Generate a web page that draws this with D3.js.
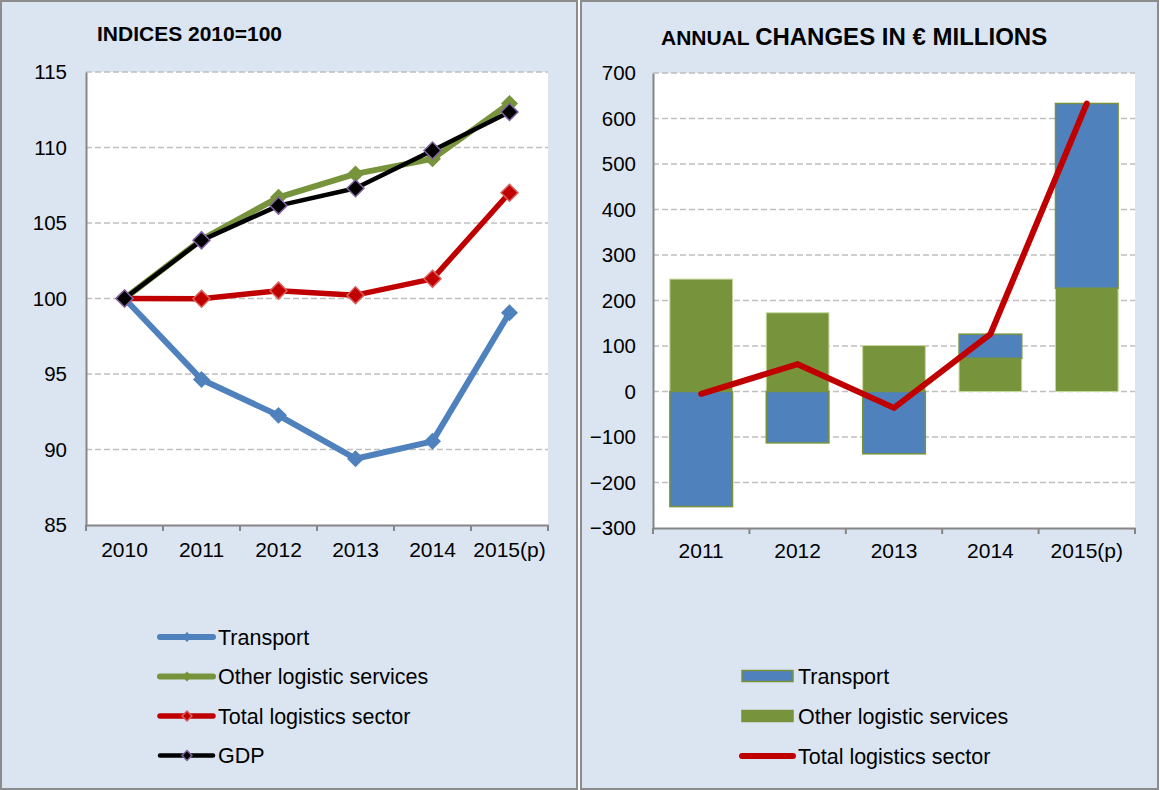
<!DOCTYPE html>
<html>
<head>
<meta charset="utf-8">
<script src="https://cdn.jsdelivr.net/npm/d3@7"></script>
<style>
  body { margin: 0; background: #fff; }
  svg text { font-family: Arial, "Liberation Sans", sans-serif; fill: #000; }
</style>
</head>
<body>
<main></main>
<script>
// left chart: indices 2010=100
const years = ["2010", "2011", "2012", "2013", "2014", "2015(p)"]
const transportIdx = [100, 94.64, 92.26, 89.39, 90.54, 99.05]
const otherIdx = [100, 103.9, 106.7, 108.25, 109.25, 112.92]
const totalIdx = [100, 99.98, 100.52, 100.22, 101.3, 107.0]
const gdpIdx = [100, 103.85, 106.15, 107.3, 109.8, 112.35]
const idxTicks = [85, 90, 95, 100, 105, 110, 115]

// right chart: annual changes in € millions
const changeYears = ["2011", "2012", "2013", "2014", "2015(p)"]
const transportChg = [-253, -113, -137, 53, 406]
const otherChg = [247, 173, 101, 73, 227]
const totalChg = [-5, 60, -36, 126, 633]
const chgTicks = [-300, -200, -100, 0, 100, 200, 300, 400, 500, 600, 700]

const blue = "#4F81BD", green = "#77933C", red = "#C00000"
const panelFill = "#DBE5F1", gridColor = "#BFBFBF", axisColor = "#868686"

const width = 1160, height = 790

let svg = d3.select("main")
    .append("svg")
    .attr("width", width)
    .attr("height", height)
    .attr("viewBox", [0, 0, width, height])

// panels
svg.selectAll("rect.panel")
    .data([[1, 577], [581, 1158]])
    .enter().append("rect")
    .attr("class", "panel")
    .attr("x", d => d[0])
    .attr("y", 1)
    .attr("width", d => d[1] - d[0])
    .attr("height", 788)
    .attr("fill", panelFill)
    .attr("stroke", "#8C8C8C")
    .attr("stroke-width", 2)

function diamond(g, x, y, size, fill, stroke) {
    g.append("path")
        .attr("d", d3.symbol(d3.symbolSquare, size * size)())
        .attr("transform", `translate(${x},${y}) rotate(45)`)
        .attr("fill", fill)
        .attr("stroke", stroke || "none")
        .attr("stroke-width", stroke ? 1.5 : 0)
}

// ---------- LEFT ----------
const L = { left: 86, right: 548, top: 72, bottom: 525 }

let xL = d3.scaleBand().domain(years).range([L.left, L.right])
let yL = d3.scaleLinear().domain([85, 115]).range([L.bottom, L.top])

svg.append("text")
    .attr("x", 97).attr("y", 41)
    .attr("font-size", 21).attr("font-weight", "bold")
    .text("INDICES 2010=100")

svg.append("rect")
    .attr("x", L.left).attr("y", L.top)
    .attr("width", L.right - L.left).attr("height", L.bottom - L.top)
    .attr("fill", "#fff")

svg.append("g").selectAll("line")
    .data(idxTicks.filter(t => t > 85))
    .enter().append("line")
    .attr("x1", L.left).attr("x2", L.right)
    .attr("y1", d => yL(d)).attr("y2", d => yL(d))
    .attr("stroke", gridColor).attr("stroke-width", 1.5)
    .attr("stroke-dasharray", "6,3")

let yAxisL = svg.append("g")
    .attr("transform", `translate(${L.left},0)`)
    .call(d3.axisLeft(yL).tickValues(idxTicks).tickSize(0).tickPadding(19))
yAxisL.select(".domain").attr("stroke", axisColor).attr("stroke-width", 2)
yAxisL.selectAll("text").attr("font-size", 20.5)

let xAxisL = svg.append("g")
    .attr("transform", `translate(0,${L.bottom})`)
    .call(d3.axisBottom(xL).tickSize(0).tickPadding(17))
xAxisL.select(".domain").attr("stroke", axisColor).attr("stroke-width", 2)
xAxisL.selectAll("text").attr("font-size", 21)
xAxisL.selectAll("line.sep")
    .data(d3.range(years.length + 1))
    .enter().append("line")
    .attr("class", "sep")
    .attr("x1", i => L.left + i * xL.step()).attr("x2", i => L.left + i * xL.step())
    .attr("y1", 0).attr("y2", 6)
    .attr("stroke", axisColor).attr("stroke-width", 2)

const seriesL = [
    { name: "Transport", values: transportIdx, color: blue, width: 6, mfill: blue, mstroke: null },
    { name: "Other logistic services", values: otherIdx, color: green, width: 6, mfill: green, mstroke: null },
    { name: "Total logistics sector", values: totalIdx, color: red, width: 5.5, mfill: red, mstroke: "#D9605C" },
    { name: "GDP", values: gdpIdx, color: "#000", width: 4.5, mfill: "#000", mstroke: "#8064A2" }
]

let line = d3.line()
    .x((d, i) => xL(years[i]) + xL.bandwidth() / 2)
    .y(d => yL(d))

seriesL.forEach(s => {
    let g = svg.append("g")
    g.append("path")
        .attr("d", line(s.values))
        .attr("fill", "none")
        .attr("stroke", s.color)
        .attr("stroke-width", s.width)
        .attr("stroke-linejoin", "round")
    s.values.forEach((v, i) => {
        diamond(g, xL(years[i]) + xL.bandwidth() / 2, yL(v), 12, s.mfill, s.mstroke)
    })
})

// legend left
seriesL.forEach((s, i) => {
    let y = 637 + i * 39.5
    let g = svg.append("g")
    g.append("line")
        .attr("x1", 160).attr("x2", 213).attr("y1", y).attr("y2", y)
        .attr("stroke", s.color).attr("stroke-width", s.width)
        .attr("stroke-linecap", "round")
    diamond(g, 187, y, 7, s.mfill, s.mstroke)
    g.append("text")
        .attr("x", 218).attr("y", y).attr("dy", "0.35em")
        .attr("font-size", 21.5)
        .text(s.name)
})

// ---------- RIGHT ----------
const R = { left: 653, right: 1135, top: 73, bottom: 528 }

let xR = d3.scaleBand().domain(changeYears).range([R.left, R.right]).paddingInner(0.35).paddingOuter(0.175)
let xRb = d3.scaleBand().domain(changeYears).range([R.left, R.right])
let yR = d3.scaleLinear().domain([-300, 700]).range([R.bottom, R.top])

let title = svg.append("text")
    .attr("x", 661).attr("y", 45)
    .attr("font-weight", "bold")
title.append("tspan").attr("font-size", 21).text("ANNUAL ")
title.append("tspan").attr("font-size", 24).text("CHANGES IN € MILLIONS")

svg.append("rect")
    .attr("x", R.left).attr("y", R.top)
    .attr("width", R.right - R.left).attr("height", R.bottom - R.top)
    .attr("fill", "#fff")

svg.append("g").selectAll("line")
    .data(chgTicks.filter(t => t > -300))
    .enter().append("line")
    .attr("x1", R.left).attr("x2", R.right)
    .attr("y1", d => yR(d)).attr("y2", d => yR(d))
    .attr("stroke", gridColor).attr("stroke-width", 1.5)
    .attr("stroke-dasharray", "6,3")

let rows = changeYears.map((y, i) => ({ year: y, other: otherChg[i], transport: transportChg[i] }))
let stacked = d3.stack().keys(["other", "transport"]).offset(d3.stackOffsetDiverging)(rows)
let barColor = { other: green, transport: blue }
let barStroke = { other: "#C4D79B", transport: green }

stacked.forEach(layer => {
    svg.append("g").selectAll("rect")
        .data(layer)
        .enter().append("rect")
        .attr("x", d => xR(d.data.year))
        .attr("y", d => yR(Math.max(d[0], d[1])))
        .attr("width", xR.bandwidth())
        .attr("height", d => Math.abs(yR(d[0]) - yR(d[1])))
        .attr("fill", barColor[layer.key])
        .attr("stroke", barStroke[layer.key])
        .attr("stroke-width", layer.key == "transport" ? 1.5 : 1)
})

let yAxisR = svg.append("g")
    .attr("transform", `translate(${R.left},0)`)
    .call(d3.axisLeft(yR).tickValues(chgTicks).tickSize(0).tickPadding(17))
yAxisR.select(".domain").attr("stroke", axisColor).attr("stroke-width", 2)
yAxisR.selectAll("text").attr("font-size", 20.5)

let xAxisR = svg.append("g")
    .attr("transform", `translate(0,${R.bottom})`)
    .call(d3.axisBottom(xRb).tickSize(0).tickPadding(15))
xAxisR.select(".domain").attr("stroke", axisColor).attr("stroke-width", 2)
xAxisR.selectAll("text").attr("font-size", 21)
xAxisR.selectAll("line.sep")
    .data(d3.range(changeYears.length + 1))
    .enter().append("line")
    .attr("class", "sep")
    .attr("x1", i => R.left + i * xRb.step()).attr("x2", i => R.left + i * xRb.step())
    .attr("y1", 0).attr("y2", 6)
    .attr("stroke", axisColor).attr("stroke-width", 2)

let lineR = d3.line()
    .x((d, i) => xRb(changeYears[i]) + xRb.bandwidth() / 2)
    .y(d => yR(d))

svg.append("path")
    .attr("d", lineR(totalChg))
    .attr("fill", "none")
    .attr("stroke", red)
    .attr("stroke-width", 6)
    .attr("stroke-linecap", "round")

// legend right
const legendR = [
    { name: "Transport", type: "rect", fill: blue, stroke: green },
    { name: "Other logistic services", type: "rect", fill: green, stroke: green },
    { name: "Total logistics sector", type: "line", fill: red }
]
legendR.forEach((d, i) => {
    let y = 676 + i * 40
    if (d.type == "rect") {
        svg.append("rect")
            .attr("x", 742).attr("y", y - 5.5)
            .attr("width", 51).attr("height", 11)
            .attr("fill", d.fill).attr("stroke", d.stroke).attr("stroke-width", 1.5)
    } else {
        svg.append("line")
            .attr("x1", 742).attr("x2", 793).attr("y1", y).attr("y2", y)
            .attr("stroke", d.fill).attr("stroke-width", 6)
            .attr("stroke-linecap", "round")
    }
    svg.append("text")
        .attr("x", 798).attr("y", y).attr("dy", "0.35em")
        .attr("font-size", 21.5)
        .text(d.name)
})
</script>
</body>
</html>
